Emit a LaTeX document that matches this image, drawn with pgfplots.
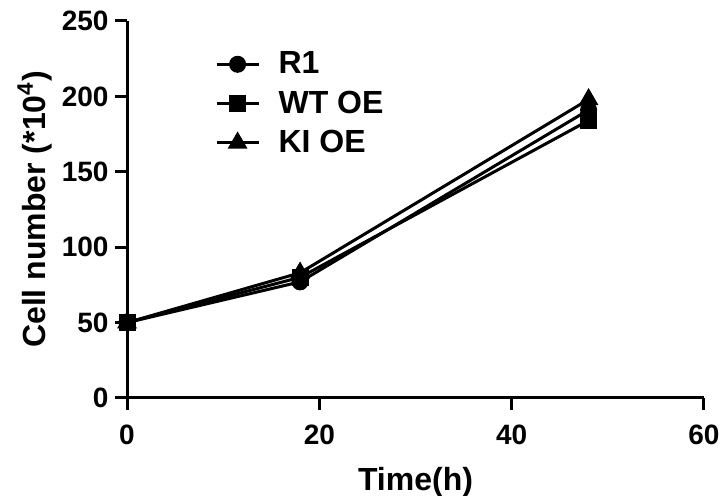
\documentclass[border=0pt]{standalone}
\usepackage{pgfplots}
\pgfplotsset{compat=1.18}
\usepackage{fontspec}
\setmainfont{Liberation Sans}
\begin{document}
\begin{tikzpicture}
\begin{axis}[
  scale only axis,
  width=288.5pt, height=188.5pt,
  xmin=0, xmax=60, ymin=0, ymax=250,
  axis lines=left,
  axis line style={line width=1.5pt, -},
  xtick={0,20,40,60}, ytick={0,50,100,150,200,250},
  tick align=outside, major tick length=6pt,
  tick style={black, line width=1.5pt},
  clip=false,
  /pgf/number format/assume math mode=true,
  tick label style={font=\fontsize{14}{16}\selectfont\bfseries},
  xticklabel style={yshift=-4pt},
  yticklabel style={xshift=0.3pt},
  label style={font=\fontsize{16}{18}\selectfont\bfseries},
  xlabel={Time(h)},
  ylabel={Cell number (*10\textsuperscript{4})},
  xlabel style={at={(axis description cs:0.5,0)}, yshift=-42pt, anchor=center},
  ylabel style={at={(axis description cs:-0.16,0.5)}, anchor=center},
  legend style={draw=none, fill=none, at={(rel axis cs:0.152,0.93)}, anchor=north west,
    font=\fontsize{16}{18}\selectfont\bfseries, row sep=3pt, inner sep=0pt},
  legend cell align=left,
  legend image code/.code={\draw[mark repeat=2,mark phase=2] plot coordinates {(0pt,0pt)(10.5pt,0pt)(21pt,0pt)}; \path[draw=none] (21pt,0pt) -- (29pt,0pt);},
  every axis plot/.append style={black, line width=1.5pt, solid},
]
\addplot[mark=*, mark size=3.5pt, mark options={solid, fill=black}] coordinates {(0,50) (18,77) (48,191)};
\addlegendentry{R1}
\addplot[mark=square*, mark size=3.5pt, mark options={solid, fill=black}] coordinates {(0,50) (18,80) (48,184)};
\addlegendentry{WT OE}
\addplot[mark=triangle*, mark size=4.2pt, mark options={solid, fill=black}] coordinates {(0,50) (18,83) (48,198)};
\addlegendentry{KI OE}
\pgfplotsinvokeforeach{0,20,40,60}{\draw[black, line width=1.5pt] (axis cs:#1,0) -- ++(0pt,-6pt);}
\pgfplotsinvokeforeach{0,50,100,150,200,250}{\draw[black, line width=1.5pt] (axis cs:0,#1) -- ++(-6pt,0pt);}
\end{axis}
\pgfresetboundingbox
\useasboundingbox (-63.5pt,-49pt) rectangle (297pt,199pt);
\end{tikzpicture}
\end{document}
